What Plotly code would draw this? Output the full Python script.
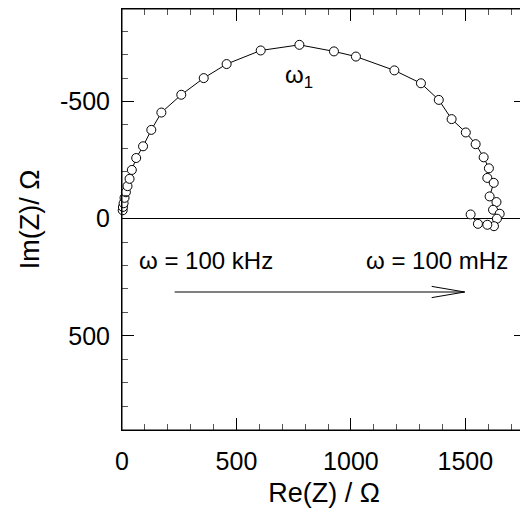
import plotly.graph_objects as go

# Nyquist data: Re(Z) and Im(Z) in ohm (negative Im plotted upward)
re_z = [3, 4, 7, 11, 17, 24, 33, 43, 62, 92, 128, 172, 259, 357, 457, 606, 775,
        926, 1022, 1190, 1306, 1384, 1440, 1502, 1545, 1580, 1603, 1596, 1624,
        1606, 1636, 1621, 1650, 1638, 1625, 1596, 1555, 1523]
im_z = [-36, -50, -66, -89, -113, -139, -170, -208, -259, -309, -379, -453, -529,
        -600, -660, -718, -742, -714, -692, -633, -578, -507, -425, -368, -318,
        -262, -215, -174, -153, -95, -71, -38, -21, 0, 32, 26, 22, -18]

y_tickvals = [-500, 0, 500]
y_ticktext = ["-500", "0", "500"]

x_range = [0, 1765]
y_range = [902, -895]

# arrow (frequency direction) in data units
arrow_x0, arrow_x1, arrow_y = 230, 1497, 313
head_len, head_half = 144, 24

FONT = "Liberation Sans, Arial, sans-serif"

fig = go.Figure()
fig.add_trace(go.Scatter(
    x=re_z, y=im_z, mode="lines+markers",
    line=dict(color="black", width=1),
    marker=dict(symbol="circle", size=9, color="white",
                line=dict(color="black", width=1)),
    showlegend=False, cliponaxis=False,
))

# frame around the plotting area
fig.add_shape(type="rect", xref="x domain", yref="y domain",
              x0=0, x1=1, y0=0, y1=1, line=dict(color="black", width=1),
              layer="above")

# arrow shaft and open head
fig.add_shape(type="line", x0=arrow_x0, x1=arrow_x1, y0=arrow_y, y1=arrow_y,
              line=dict(color="black", width=1))
fig.add_shape(type="line", x0=arrow_x1 - head_len, x1=arrow_x1,
              y0=arrow_y - head_half, y1=arrow_y, line=dict(color="black", width=1))
fig.add_shape(type="line", x0=arrow_x1 - head_len, x1=arrow_x1,
              y0=arrow_y + head_half, y1=arrow_y, line=dict(color="black", width=1))

fig.add_annotation(x=65, y=177, text="ω = 100 kHz", showarrow=False,
                   xanchor="left", yanchor="middle",
                   font=dict(family=FONT, size=24, color="black"))
fig.add_annotation(x=1694, y=177, text="ω = 100 mHz", showarrow=False,
                   xanchor="right", yanchor="middle",
                   font=dict(family=FONT, size=24, color="black"))
fig.add_annotation(x=775, y=-605, text="ω<sub>1</sub>", showarrow=False,
                   xanchor="center", yanchor="middle",
                   font=dict(family=FONT, size=24, color="black"))

axis_common = dict(
    showline=True, linecolor="black", linewidth=1, mirror="ticks",
    ticks="inside", ticklen=12, tickcolor="black", tickwidth=1,
    showgrid=False,
    tickfont=dict(family=FONT, size=25, color="black"),
    minor=dict(ticks="inside", ticklen=6, tickcolor="#555", tickwidth=1,
               dtick=100, tick0=0, showgrid=False),
)

fig.update_xaxes(
    range=x_range, tickmode="linear", tick0=0, dtick=500,
    zeroline=False, ticklabelstandoff=9,
    title=dict(text="Re(Z) / Ω", font=dict(family=FONT, size=27, color="black"),
               standoff=12),
    **axis_common,
)
fig.update_yaxes(
    range=y_range, tickvals=y_tickvals, ticktext=y_ticktext,
    zeroline=True, zerolinecolor="black", zerolinewidth=1, ticklabelstandoff=6,
    title=dict(text="Im(Z)/ Ω", font=dict(family=FONT, size=27, color="black"),
               standoff=12),
    **axis_common,
)
fig.update_layout(
    width=520, height=500,
    margin=dict(l=114, r=2, t=1, b=78, autoexpand=False),
    plot_bgcolor="white", paper_bgcolor="white",
    font=dict(family=FONT, color="black"),
)
fig.write_html("out.html")
